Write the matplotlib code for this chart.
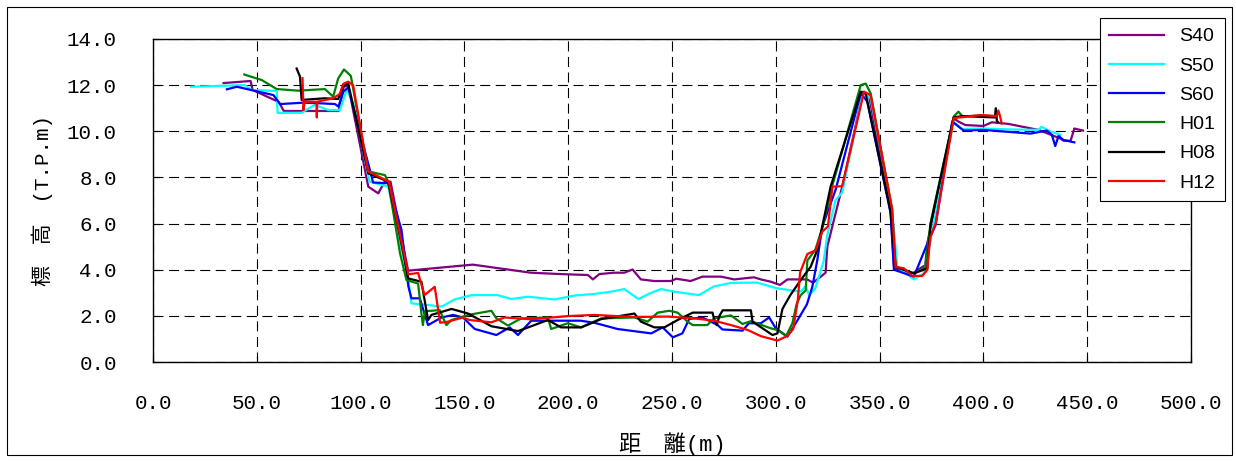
import matplotlib
matplotlib.use("Agg")
import matplotlib.pyplot as plt
from matplotlib.patches import Rectangle
import numpy as np

# cross-section survey lines, distance (m) vs elevation (T.P.m)
s40_x = [34, 47, 48, 60.6, 63, 89.4, 91.8, 94, 103.7, 108.5, 111.6, 114.4, 122.9, 154, 182, 196.6,
         209.5, 211.9, 215, 222, 227, 231, 235, 241.5, 249.5, 252, 259, 264.7, 273.6, 280, 289.5, 292.8,
         297.6, 302, 305.6, 315, 318, 324, 324.8, 332, 342, 345, 355.3, 357, 366, 372, 373, 385.6,
         388, 391.3, 400, 404, 412, 426.5, 437, 438.6, 442, 443.8, 448]
s40_y = [12.09, 12.18, 11.79, 11.27, 10.88, 10.88, 11.92, 12.0, 7.6, 7.31, 7.82, 7.82, 3.96, 4.22, 3.87, 3.81,
         3.77, 3.58, 3.81, 3.87, 3.87, 4.01, 3.58, 3.51, 3.51, 3.61, 3.51, 3.7, 3.7, 3.58, 3.67, 3.58,
         3.48, 3.34, 3.58, 3.58, 3.44, 3.87, 5.0, 7.6, 11.7, 11.5, 6.5, 4.07, 3.85, 4.2, 5.15, 10.57,
         10.42, 10.27, 10.23, 10.39, 10.32, 10.06, 9.69, 9.59, 9.59, 10.12, 10.03]

s50_x = [18.3, 44.3, 47.6, 59.6, 60, 71.6, 76.4, 78, 84.4, 90, 93.3, 96.5, 104.3, 113.3, 118.8, 123,
         124.5, 132.5, 139, 145.3, 153.4, 166, 172.6, 180.6, 193.4, 203, 212.6, 220.7, 227, 233.8, 240, 244.7,
         251, 263, 270, 278.4, 291, 300.8, 312, 314.4, 316, 319, 323, 324.8, 328.8, 332, 342, 345.7,
         356, 358.5, 366.5, 371.3, 373, 385.6, 389.7, 400, 413, 426.6, 428, 432, 437]
s50_y = [11.93, 12.0, 11.79, 11.75, 10.8, 10.8, 11.07, 11.14, 10.92, 10.92, 11.79, 11.2, 7.82, 7.6, 5.29, 3.55,
         2.54, 2.47, 2.4, 2.71, 2.9, 2.9, 2.73, 2.83, 2.71, 2.88, 2.95, 3.05, 3.16, 2.73, 3.0, 3.16,
         3.05, 2.9, 3.27, 3.43, 3.44, 3.19, 3.05, 3.29, 2.9, 3.19, 4.35, 5.5, 7.02, 7.35, 11.72, 11.43,
         6.66, 4.13, 3.58, 3.84, 4.56, 10.42, 10.1, 10.12, 10.08, 10.06, 10.2, 10.0, 9.85]

s60_x = [35.6, 40.4, 58, 61.2, 72.4, 81.2, 87.7, 89.3, 91.7, 94, 105.3, 106, 113.3, 119.7, 123, 124.5,
         128.5, 132.5, 139, 144.6, 149.3, 155, 165.4, 171.8, 175.8, 182.2, 206, 212.6, 223.8, 240, 245.5, 250.4,
         255, 258.3, 264.7, 272, 274.3, 284, 287, 292.8, 296.8, 300, 305.6, 309.6, 315, 317.6, 320, 322.4,
         328.8, 340.9, 344, 355.3, 356.9, 366.5, 373.7, 377, 385, 390.5, 400, 422.6, 430.6, 433, 434.6, 436.2,
         438.6, 443.8]
s60_y = [11.82, 11.93, 11.57, 11.18, 11.24, 11.21, 11.18, 11.07, 11.72, 11.9, 8.04, 7.78, 7.75, 5.72, 3.28, 2.76,
         2.76, 1.6, 1.93, 2.04, 1.93, 1.43, 1.17, 1.5, 1.17, 1.79, 1.79, 1.7, 1.43, 1.24, 1.5, 1.07,
         1.24, 1.87, 1.93, 1.6, 1.41, 1.36, 1.68, 1.68, 1.93, 1.46, 1.1, 1.68, 2.5, 3.26, 4.42, 5.87,
         7.46, 11.64, 11.3, 6.45, 4.0, 3.7, 5.29, 5.94, 10.42, 10.03, 10.06, 9.9, 10.03, 9.84, 9.36, 9.8,
         9.62, 9.52]

h01_x = [44, 52.4, 59.6, 70, 82.8, 86.8, 89.2, 92, 95.3, 103.7, 111.7, 113.3, 119, 122.1, 127.7, 129.3,
         130, 131, 138.1, 141.3, 143.8, 151.8, 163, 165.4, 171, 177.4, 190.2, 191.8, 199.8, 206.2, 215.9, 231.9,
         238.3, 243.1, 248.7, 252.7, 257.5, 260, 267, 270.3, 278.4, 284, 288, 297.6, 300.8, 305, 308, 310,
         312, 314.4, 315.2, 319, 322.4, 327.3, 340.9, 343.3, 345.7, 356, 357.7, 366.5, 372, 374.5, 385.7, 388,
         390, 400, 404]
h01_y = [12.46, 12.22, 11.83, 11.76, 11.83, 11.5, 12.29, 12.68, 12.4, 8.26, 8.1, 7.82, 4.71, 3.55, 3.4, 2.1,
         1.6, 2.2, 2.25, 1.6, 1.82, 2.04, 2.22, 1.89, 1.58, 1.89, 1.93, 1.43, 1.68, 1.5, 1.89, 1.93,
         1.75, 2.14, 2.22, 2.14, 1.75, 1.6, 1.6, 1.89, 2.02, 1.65, 1.77, 1.46, 1.39, 1.13, 1.68, 2.5,
         2.9, 3.1, 4.4, 4.86, 5.8, 7.67, 12.0, 12.07, 11.64, 6.59, 4.13, 3.84, 4.1, 6.0, 10.64, 10.85,
         10.64, 10.7, 10.66]

h08_x = [69.2, 70.8, 71.6, 82.8, 89.2, 91.6, 94, 103.7, 113.3, 118, 123, 129.3, 132.5, 134.1, 143.8, 151.8,
         163, 175.8, 182.2, 190.2, 196.6, 206.2, 215.9, 231.9, 235, 241.5, 246.3, 252.7, 260, 269.5, 270.3, 271.6,
         272.8, 274.4, 288, 288.8, 298.4, 300.8, 303.2, 307, 312, 316.8, 320, 326.4, 340.9, 343.3, 355.3, 357.7,
         366.5, 373, 374.5, 385.7, 389.7, 405.5, 406, 406.5, 407]
h08_y = [12.72, 12.37, 11.36, 11.43, 11.4, 11.95, 12.08, 8.18, 7.82, 5.87, 3.62, 3.48, 1.82, 2.04, 2.3, 2.1,
         1.55, 1.34, 1.55, 1.82, 1.5, 1.5, 1.86, 2.1, 1.75, 1.5, 1.5, 1.82, 2.14, 2.14, 1.85, 1.6,
         1.99, 2.24, 2.24, 1.75, 1.17, 1.24, 2.3, 2.9, 3.55, 4.13, 4.86, 7.6, 11.72, 11.64, 6.53, 4.13,
         3.84, 4.06, 5.94, 10.6, 10.66, 10.6, 11.0, 10.45, 10.4]

h12_x = [72, 72.5, 73, 78.8, 78.9, 79.1, 86.8, 90, 91.6, 94, 96.4, 103.6, 113.6, 123, 127.7, 130.8,
         135.7, 138.3, 142.1, 149.3, 152.5, 163, 169.4, 182.2, 199.8, 212.6, 231.9, 247.9, 260.7, 270.3, 278.4, 286.4,
         292.8, 300.8, 305.6, 308.4, 310.6, 311.7, 315.2, 319.2, 322.4, 325.1, 327.3, 332, 342.5, 345.7, 356, 357.7,
         361.7, 365.7, 370.5, 373, 373.5, 374.5, 377, 385.7, 398.5, 406.5, 407.2, 408, 408.8]
h12_y = [12.3, 10.92, 11.28, 11.28, 10.6, 11.28, 11.43, 11.62, 12.05, 12.15, 12.0, 8.26, 7.82, 3.8, 3.86, 2.9,
         3.26, 1.7, 1.75, 1.93, 1.82, 1.72, 1.93, 1.85, 1.99, 2.04, 1.95, 1.97, 1.89, 1.79, 1.6, 1.39,
         1.12, 0.93, 1.13, 1.43, 2.69, 3.88, 4.68, 4.84, 5.65, 5.87, 7.6, 7.62, 11.72, 11.57, 6.66, 4.13,
         4.06, 3.73, 3.73, 3.99, 4.6, 5.43, 6.0, 10.57, 10.7, 10.66, 10.9, 10.66, 10.34]

series = [("S40", s40_x, s40_y, "#800080"),
          ("S50", s50_x, s50_y, "#00ffff"),
          ("S60", s60_x, s60_y, "#0000ff"),
          ("H01", h01_x, h01_y, "#008000"),
          ("H08", h08_x, h08_y, "#000000"),
          ("H12", h12_x, h12_y, "#ff0000")]

x_ticks = np.arange(0, 501, 50)
y_ticks = np.arange(0, 15, 2)

mono = ["Liberation Mono", "Noto Sans CJK JP"]

fig = plt.figure(figsize=(12.36, 4.62), dpi=100, facecolor="white")
ax = fig.add_axes([153/1236, 100/462, (1191-153)/1236, (362-39)/462])

lines = []
for name, xs, ys, col in series:
    ln, = ax.plot(xs, ys, color=col, lw=1.6, label=name)
    lines.append(ln)

ax.set_xlim(0, 500)
ax.set_ylim(0, 14)
ax.set_xticks(x_ticks)
ax.set_yticks(y_ticks)
ax.set_xticklabels(["%.1f" % v for v in x_ticks], family=mono, fontsize=15)
ax.set_yticklabels(["%.1f" % v for v in y_ticks], family=mono, fontsize=15)
ax.tick_params(axis="both", direction="in", length=4, width=0.8, color="black")
ax.tick_params(axis="x", pad=23)
ax.tick_params(axis="y", pad=26)

ax.grid(True, color="black", linestyle=(0, (9, 5)), linewidth=0.8)
for sp in ax.spines.values():
    sp.set_linewidth(1.0)
    sp.set_color("black")

ax.set_xlabel("距\u3000離(m)", family=mono, fontsize=16, labelpad=14)
ax.set_ylabel("標\u3000高\u3000(T.P.m)", family=mono, fontsize=15, labelpad=10)

leg = fig.legend(handles=lines, loc="upper right", bbox_to_anchor=(1225/1236, 444/462),
                 borderaxespad=0, frameon=True, fancybox=False, edgecolor="black",
                 framealpha=1, handlelength=2.8, handletextpad=0.8, labelspacing=0.6,
                 borderpad=0.5, prop={"family": "Liberation Sans", "size": 14})
leg.get_frame().set_linewidth(0.8)

# outer frame around the whole picture
fig.patches.append(Rectangle((7/1236, 7/462), 1225/1236, 448/462, transform=fig.transFigure,
                             fill=False, edgecolor="black", linewidth=0.8))

fig.savefig("out.png", dpi=100)
